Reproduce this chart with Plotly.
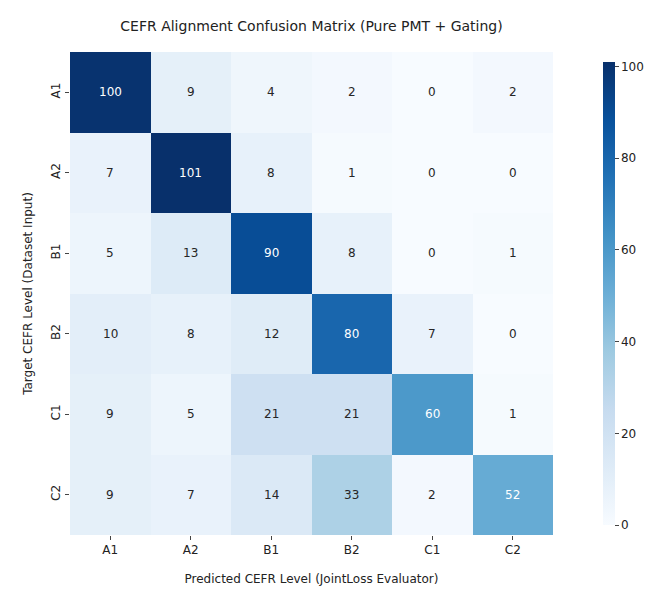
import plotly.graph_objects as go

labels = ["A1", "A2", "B1", "B2", "C1", "C2"]
matrix = [
    [100, 9, 4, 2, 0, 2],
    [7, 101, 8, 1, 0, 0],
    [5, 13, 90, 8, 0, 1],
    [10, 8, 12, 80, 7, 0],
    [9, 5, 21, 21, 60, 1],
    [9, 7, 14, 33, 2, 52],
]
title = "CEFR Alignment Confusion Matrix (Pure PMT + Gating)"
xlabel = "Predicted CEFR Level (JointLoss Evaluator)"
ylabel = "Target CEFR Level (Dataset Input)"

vmax = max(max(r) for r in matrix)
fig = go.Figure(go.Heatmap(
    z=matrix, x=labels, y=labels, colorscale="Blues", zmin=0, zmax=vmax,
    xgap=0, ygap=0, hoverinfo="skip",
    colorbar=dict(thickness=12, len=1, lenmode="fraction", x=1.083, xanchor="left",
                  y=0.5, yanchor="middle", outlinewidth=0, tickvals=[0, 20, 40, 60, 80, 100],
                  ticks="outside", ticklen=4, tickfont=dict(size=12, color="#222")),
))
ann = []
for i, row in enumerate(matrix):
    for j, v in enumerate(row):
        ann.append(dict(x=labels[j], y=labels[i], text=str(v), showarrow=False,
                        font=dict(size=12, color="white" if v > 0.45 * vmax else "#262626")))
fig.update_layout(
    width=653, height=590, margin=dict(l=62, r=108, t=44, b=63, autoexpand=False),
    paper_bgcolor="white", plot_bgcolor="white",
    font=dict(family="DejaVu Sans", size=12, color="#222"),
    title=dict(text=title, x=0.5, xref="paper", y=1 - 18/590, yanchor="middle",
               font=dict(size=14)),
    annotations=ann,
    xaxis=dict(title=dict(text=xlabel, font=dict(size=12), standoff=18), ticks="outside",
               ticklen=4, showgrid=False, zeroline=False, automargin=False),
    yaxis=dict(title=dict(text=ylabel, font=dict(size=12), standoff=14), ticks="outside",
               ticklen=4, tickangle=-90, autorange="reversed", showgrid=False, zeroline=False,
               automargin=False),
)
fig.write_html("out.html")
